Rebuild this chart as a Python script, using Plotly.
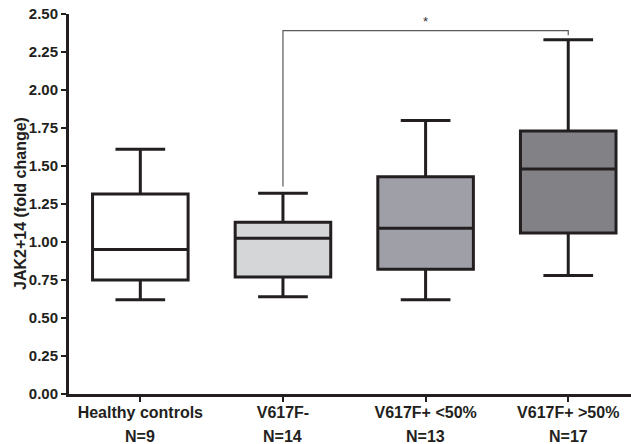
import plotly.graph_objects as go

categories = ["Healthy controls", "V617F-", "V617F+ <50%", "V617F+ >50%"]
n_labels = ["N=9", "N=14", "N=13", "N=17"]
lower_whisker = [0.62, 0.64, 0.62, 0.78]
q1_values = [0.75, 0.77, 0.82, 1.06]
medians = [0.95, 1.025, 1.09, 1.48]
q3_values = [1.315, 1.13, 1.43, 1.73]
upper_whisker = [1.61, 1.32, 1.80, 2.33]
fills = ["#ffffff", "#d5d6d8", "#9fa0a7", "#828286"]
y_ticks = [0, 0.25, 0.5, 0.75, 1.0, 1.25, 1.5, 1.75, 2.0, 2.25, 2.5]
sig_pair = [1, 3]
sig_label = "*"
bracket_y = 2.39

ink = "#231f20"
font_family = "Liberation Sans, Arial, sans-serif"

fig = go.Figure()
for i, cat in enumerate(categories):
    fig.add_trace(go.Box(
        x=[i],
        q1=[q1_values[i]], median=[medians[i]], q3=[q3_values[i]],
        lowerfence=[lower_whisker[i]], upperfence=[upper_whisker[i]],
        fillcolor=fills[i],
        line=dict(color=ink, width=3),
        width=0.67,
        whiskerwidth=0.52,
        boxpoints=False,
        showlegend=False,
        hoverinfo="skip",
    ))

# significance bracket
a, b = sig_pair
fig.add_shape(type="path",
              path=f"M {a} {upper_whisker[a] + 0.045} L {a} {bracket_y} L {b} {bracket_y} L {b} {upper_whisker[b] + 0.03}",
              line=dict(color="#5a5a5a", width=1.2), xref="x", yref="y")
fig.add_annotation(x=(a + b) / 2, y=bracket_y, text=sig_label, showarrow=False,
                   yanchor="bottom", yshift=0,
                   font=dict(family=font_family, size=13, color="#333333"))

for i, n in enumerate(n_labels):
    fig.add_annotation(x=i, y=0, xref="x", yref="paper", yshift=-42, text=f"<b>{n}</b>",
                       showarrow=False, yanchor="middle",
                       font=dict(family=font_family, size=16, color=ink))

fig.add_annotation(x=0, y=0.5, xref="paper", yref="paper", xshift=-49,
                   text="<b>JAK2+14 (fold change)</b>", textangle=-90, showarrow=False,
                   xanchor="center", yanchor="middle",
                   font=dict(family=font_family, size=16, color=ink))

fig.update_layout(
    width=631, height=444,
    margin=dict(l=69, r=0, t=14, b=50, autoexpand=False),
    paper_bgcolor="white", plot_bgcolor="white",
    font=dict(family=font_family, size=14, color=ink),
)
fig.update_xaxes(
    type="linear", range=[-0.5, 3.44], automargin=False,
    tickvals=list(range(len(categories))),
    ticktext=[f"<b>{c}</b>" for c in categories],
    ticks="outside", ticklen=5, tickwidth=2, tickcolor=ink,
    ticklabelstandoff=-3,
    showline=True, linecolor=ink, linewidth=3,
    showgrid=False, zeroline=False,
    tickfont=dict(family=font_family, size=16, color=ink),
)
fig.update_yaxes(
    range=[0, 2.5], automargin=False,
    tickvals=y_ticks,
    ticktext=[f"<b>{v:.2f}</b>" for v in y_ticks],
    ticks="outside", ticklen=5, tickwidth=2, tickcolor=ink,
    showline=True, linecolor=ink, linewidth=3,
    showgrid=False, zeroline=False,
    tickfont=dict(family=font_family, size=15, color=ink),
)

fig.write_html("out.html", config={"displayModeBar": False},
               post_script="document.body.style.margin='0';document.body.style.padding='0';")
